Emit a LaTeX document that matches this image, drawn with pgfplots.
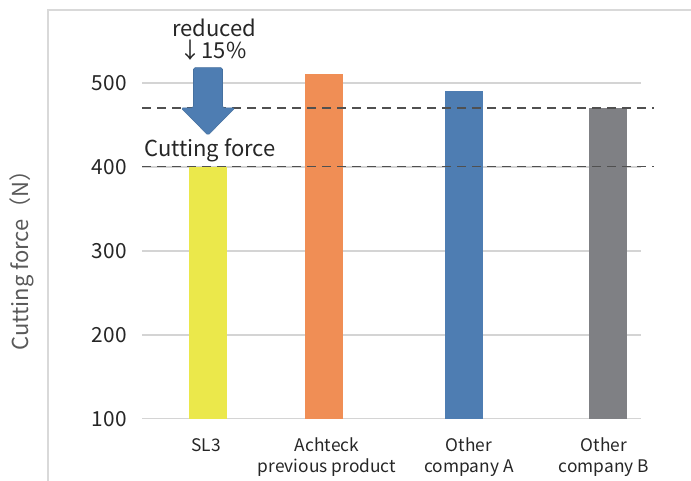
\documentclass[border=0pt]{standalone}
\usepackage{fontspec}
\setmainfont{Noto Sans CJK JP}
\usepackage{pgfplots}
\pgfplotsset{compat=1.18}
\definecolor{cyellow}{HTML}{EBE84B}
\definecolor{corange}{HTML}{F08E55}
\definecolor{cblue}{HTML}{4E7DB2}
\definecolor{cgray}{HTML}{7F8084}
\definecolor{gridc}{HTML}{D4D4D4}
\definecolor{framec}{HTML}{D9D9D9}
\definecolor{txt}{HTML}{262626}
\definecolor{ylab}{HTML}{595959}
\definecolor{dashc}{HTML}{505050}
\begin{document}
\begin{tikzpicture}
\path[use as bounding box] (0,0) rectangle (518.25pt,360pt);
\draw[framec, line width=1.5pt] (36pt,-5pt) -- (36pt,352.5pt) -- (530pt,352.5pt);
\begin{axis}[
  at={(106.5pt,45.975pt)}, anchor=south west,
  scale only axis, width=384pt, height=302.4pt,
  xmin=0, xmax=512, ymin=100, ymax=580,
  axis line style={draw=none},
  major tick length=0pt,
  ytick={100,200,300,400,500},
  xtick={64,185,327,462},
  xticklabels={SL3, Achteck\\previous product, Other\\company A, Other\\company B},
  yticklabel style={font=\fontsize{15.6pt}{18pt}\selectfont, text=txt, xshift=-8pt},
  xticklabel style={font=\fontsize{13pt}{15.8pt}\selectfont, text=txt, align=center, yshift=-11pt},
  ylabel={Cutting force（N）},
  ylabel style={at={(axis description cs:-0.234,0.406)}, anchor=center, font=\fontsize{16.5pt}{19pt}\selectfont, text=ylab},
  /pgf/number format/assume math mode=true,
]
% gridlines
\addplot[gridc, line width=1.2pt] coordinates {(0,100) (499,100)};
\addplot[gridc, line width=1.2pt] coordinates {(0,200) (499,200)};
\addplot[gridc, line width=1.2pt] coordinates {(0,300) (499,300)};
\addplot[gridc, line width=1.2pt] coordinates {(0,400) (499,400)};
\addplot[gridc, line width=1.2pt] coordinates {(0,500) (499,500)};
% bars
\addplot[ybar, bar width=38, fill=cyellow, draw=none] coordinates {(66,400)};
\addplot[ybar, bar width=38, fill=corange, draw=none] coordinates {(182,510)};
\addplot[ybar, bar width=38, fill=cblue, draw=none] coordinates {(322,490)};
\addplot[ybar, bar width=38, fill=cgray, draw=none] coordinates {(466,470)};
% dashed reference lines
\addplot[dashc, line width=1.1pt, dash pattern=on 6.75pt off 4.5pt] coordinates {(0,470) (512,470)};
\addplot[dashc, line width=1.1pt, dash pattern=on 6.75pt off 4.5pt] coordinates {(0,400) (512,400)};
% arrow
\fill[cblue, draw=cblue!90!black, line width=0.4pt, rounded corners=1.2pt]
  (axis cs:51.5,518) -- (axis cs:80.5,518) -- (axis cs:80.5,470) -- (axis cs:93,470)
  -- (axis cs:66,437.5) -- (axis cs:39,470) -- (axis cs:51.5,470) -- cycle;
\node[anchor=base, text=txt, font=\fontsize{16.5pt}{19pt}\selectfont, inner sep=0pt] at (axis cs:72,555.6) {reduced};
\node[anchor=base, text=txt, font=\fontsize{16.5pt}{19pt}\selectfont, inner sep=0pt] at (axis cs:71,529.4) {↓15\%};
\node[anchor=base, text=txt, font=\fontsize{16.5pt}{19pt}\selectfont, inner sep=0pt] at (axis cs:68,411.9) {Cutting force};
\end{axis}
\end{tikzpicture}
\end{document}
